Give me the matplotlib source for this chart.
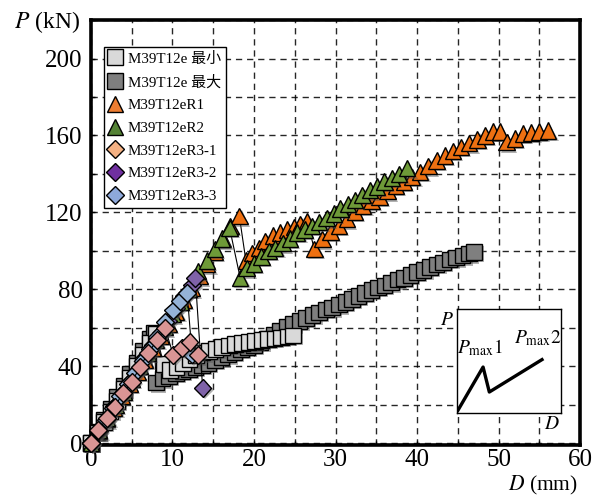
import matplotlib
matplotlib.use("Agg")
import matplotlib.pyplot as plt
from matplotlib.lines import Line2D
import matplotlib.patheffects as pe

plt.rcParams['font.family'] = ['Liberation Serif', 'Noto Sans CJK JP', 'DejaVu Sans']
plt.rcParams['mathtext.fontset'] = 'stix'

# ---------------- data ----------------
label_min = "M39T12e 最小"
label_max = "M39T12e 最大"
label_r1 = "M39T12eR1"
label_r2 = "M39T12eR2"
label_r31 = "M39T12eR3-1"
label_r32 = "M39T12eR3-2"
label_r33 = "M39T12eR3-3"

x_min = [0, 0.8, 1.6, 2.4, 3.2, 4.0, 4.8, 5.6, 6.4, 7.2, 8.0, 8.9, 9.7, 10.5, 11.3,
         12.1, 12.9, 13.7, 14.5, 15.3, 16.1, 16.9, 17.7, 18.5, 19.3, 20.1, 20.9,
         21.7, 22.5, 23.3, 24.1, 24.8]
y_min = [0, 5.5, 11, 16.5, 22, 28, 34, 40, 46, 52, 57, 41, 38, 39.5, 41.5,
         43.5, 45.5, 47, 48, 49, 50, 50.8, 51.5, 52, 52.5, 53, 53.5,
         54, 54.5, 55, 55.5, 56]

x_max = [0, 0.8, 1.6, 2.4, 3.2, 4.0, 4.8, 5.6, 6.4, 7.2, 7.7, 8.0, 8.8, 9.6, 10.4,
         11.2, 12.0, 12.8, 13.6, 14.4, 15.2, 16.0, 16.8, 17.6, 18.4, 19.2, 20.0,
         20.8, 21.6, 22.4, 23.2, 24.0, 24.8, 25.6, 26.4, 27.2, 28.0, 28.8, 29.6,
         30.4, 31.2, 32.0, 32.8, 33.6, 34.4, 35.2, 36.0, 36.8, 37.6, 38.4, 39.2,
         40.0, 40.8, 41.6, 42.4, 43.2, 44.0, 44.8, 45.6, 46.4, 47.0]
y_max = [0, 6, 12, 18, 24, 30, 36, 42, 48, 54, 57.5, 31.5, 33.5, 35, 36.5,
         37.5, 38.5, 39.5, 40.5, 41.5, 43, 44.5, 46, 47.5, 49, 50, 51,
         52.5, 54.5, 56.5, 58.5, 60.5, 62, 63.5, 65, 66.5, 68, 69.5, 70.5,
         72, 73.5, 75, 76.5, 78, 79.5, 81, 82, 83.5, 85, 86, 87.5,
         89, 90, 91.5, 93, 94, 95.5, 96.5, 97.5, 98.5, 99.5]

x_r1 = [0, 0.95, 1.9, 2.85, 3.8, 4.75, 5.7, 6.65, 7.6, 8.55, 9.5, 10.45, 11.4,
        12.35, 13.3, 14.25, 15.2, 16.15, 17.1, 18.2,
        19.0, 19.8, 20.6, 21.4, 22.3, 23.2, 24.1, 24.9, 25.7, 26.5,
        27.4, 28.4, 29.4, 30.4, 31.4, 32.4, 33.4, 34.4, 35.4, 36.4, 37.4, 38.4,
        39.4, 40.4, 41.4, 42.4, 43.4, 44.4, 45.4, 46.4, 47.4, 48.4, 49.3, 50.2,
        51.0, 52.0, 53.0, 54.0, 55.0, 56.1]
y_r1 = [0, 6.2, 12.4, 18.6, 24.8, 31, 37.2, 43.4, 49.6, 55.8, 62, 68.2, 74.4,
        80.6, 86.8, 93, 99.5, 106, 113, 118,
        95, 99, 101.5, 105, 108, 109.5, 111, 112.5, 114, 115.5,
        101, 106, 110, 113, 116.5, 120.5, 123.5, 126, 128, 131, 134, 136,
        138.5, 141, 144, 147, 149.5, 152, 154, 156, 158, 160, 162, 162,
        156.5, 158.5, 161, 161.5, 162, 162.5]

x_r2 = [0, 1, 2, 3, 4, 5, 6, 7, 8, 9, 10, 11, 12, 13.1, 14.2, 15.2, 16.1, 17.0,
        18.3, 19.1, 20.0, 20.9, 21.8, 22.6, 23.5, 24.4, 25.3, 26.2, 27.1, 28.0,
        28.9, 29.8, 30.6, 31.5, 32.4, 33.3, 34.2, 35.1, 36.0, 36.9, 37.8, 38.8]
y_r2 = [0, 6.7, 13.4, 20.1, 26.8, 33.5, 40.2, 46.9, 53.6, 60.3, 67, 73.7, 80.4,
        89.5, 95, 101, 106.5, 112,
        86, 91, 93.5, 97, 100, 101.5, 104, 106.5, 109.5, 111, 113, 115,
        117, 119.5, 122, 124.5, 126.5, 129, 131.5, 133.5, 136, 138, 140, 143]

x_r31 = [0, 0.9, 2.0, 2.9, 3.9, 5.0, 6.0, 7.0, 8.1, 9.1, 10.1, 11.2, 12.1, 13.1]
y_r31 = [0, 6.7, 13, 18.7, 26, 31.7, 39.5, 46.7, 53.5, 59.7, 45.7, 49.4, 52.5, 45.7]

x_r32 = [0, 0.95, 1.9, 2.85, 3.8, 4.75, 5.7, 6.65, 7.6, 8.55, 9.5, 10.45, 11.4,
         12.4, 12.8, 13.7]
y_r32 = [0, 6.4, 12.7, 19.1, 25.5, 31.8, 38.2, 44.6, 50.9, 57.3, 63.7, 70, 76.4,
         82, 85.7, 28.6]

x_r33 = [0, 0.9, 1.8, 2.7, 3.6, 4.5, 5.4, 6.3, 7.2, 8.1, 9.1, 10.1, 10.9, 11.8, 12.4]
y_r33 = [0, 6.1, 12.2, 18.4, 24.5, 30.6, 36.7, 42.8, 49, 55.1, 63, 69, 74, 78, 46]

# inset schematic
ins_x = [0, 0.25, 0.31, 0.83]
ins_y = [0.01, 0.44, 0.20, 0.52]

# ---------------- styles ----------------
# key: (x, y, label, marker, face (plot), face (legend), size, zorder)
series = {
    'max': (x_max, y_max, label_max, 's', '#7F7F7F', '#7F7F7F', 11.2, 3),
    'min': (x_min, y_min, label_min, 's', '#D9D9D9', '#D9D9D9', 11.2, 3.2),
    'r1': (x_r1, y_r1, label_r1, '^', '#EE7011', '#ED7D31', 11.8, 3.4),
    'r2': (x_r2, y_r2, label_r2, '^', '#6E9A38', '#548235', 11.8, 3.6),
    'r32': (x_r32, y_r32, label_r32, 'D', '#7F62A8', '#7030A0', 9.0, 3.8),
    'r33': (x_r33, y_r33, label_r33, 'D', '#95B3D7', '#8EA9DB', 9.0, 4.0),
    'r31': (x_r31, y_r31, label_r31, 'D', '#D99594', '#F4B183', 9.0, 4.2),
}
legend_order = ['min', 'max', 'r1', 'r2', 'r31', 'r32', 'r33']

fig = plt.figure(figsize=(6.03, 5.01), dpi=100)
ax = fig.add_axes([0.1509, 0.1118, 0.811, 0.848])
ax.set_xlim(0, 60)
ax.set_ylim(-1, 220)

shadow = [pe.SimplePatchShadow(offset=(1.6, -1.6), shadow_rgbFace='#555555', alpha=0.45),
          pe.Normal()]

for key, (xs, ys, lab, m, fc, lfc, ms, z) in series.items():
    ax.plot(xs, ys, '-', color='black', lw=0.8, zorder=z, clip_on=False)
    ax.plot(xs, ys, linestyle='none', marker=m, markersize=ms, markerfacecolor=fc,
            markeredgecolor='black', markeredgewidth=1.0, zorder=z + 0.1,
            clip_on=False, path_effects=shadow)

# grid & ticks
ax.set_xticks(range(0, 61, 10))
ax.set_xticks(range(0, 61, 5), minor=True)
ax.set_yticks(range(0, 201, 40))
ax.set_yticks(range(0, 221, 20), minor=True)
ax.grid(True, which='both', color='black', linestyle=(0, (4.5, 3.5)), lw=1.0, alpha=0.85)
ax.set_axisbelow(True)
ax.tick_params(which='both', direction='in', length=3, width=1)
ax.tick_params(axis='x', which='major', labelsize=18, pad=3)
ax.tick_params(axis='y', which='major', labelsize=18, pad=6)
for s in ax.spines.values():
    s.set_linewidth(2.6)
    s.set_zorder(2.5)

fig.text(0.024, 0.957, r'$P$ (kN)', fontsize=17, ha='left', va='center')
fig.text(0.959, 0.03, r'$D$ (mm)', fontsize=15.5, ha='right', va='center')

# legend
handles = []
labels = []
for key in legend_order:
    xs, ys, lab, m, fc, lfc, ms, z = series[key]
    handles.append(Line2D([], [], linestyle='none', marker=m, markersize=ms,
                          markerfacecolor=lfc, markeredgecolor='black',
                          markeredgewidth=1.0))
    labels.append(lab)
leg = ax.legend(handles, labels, loc='upper left',
                bbox_to_anchor=(0.0266, 0.9365), fontsize=10.8, frameon=True,
                fancybox=False, framealpha=1, edgecolor='black',
                handlelength=0.9, handletextpad=0.4, labelspacing=0.62,
                borderpad=0.3, borderaxespad=0)
leg.get_frame().set_linewidth(1.0)
leg.set_zorder(10)

# inset schematic
ins = fig.add_axes([0.758, 0.176, 0.1725, 0.2076])
ins.set_xlim(0, 1)
ins.set_ylim(0, 1)
ins.plot(ins_x, ins_y, color='black', lw=2.4, solid_capstyle='butt')
ins.set_xticks([])
ins.set_yticks([])
for s in ins.spines.values():
    s.set_linewidth(1.0)
ins.text(-0.1, 0.89, r'$P$', fontsize=14, ha='center', va='center', transform=ins.transAxes)
ins.text(0.22, 0.63, r'$P_{\rm max}1$', fontsize=14, ha='center', va='center', transform=ins.transAxes)
ins.text(0.78, 0.72, r'$P_{\rm max}2$', fontsize=14, ha='center', va='center', transform=ins.transAxes)
ins.text(0.91, -0.11, r'$D$', fontsize=14, ha='center', va='center', transform=ins.transAxes)
ins.set_zorder(9)

fig.savefig('out.png', dpi=100)
